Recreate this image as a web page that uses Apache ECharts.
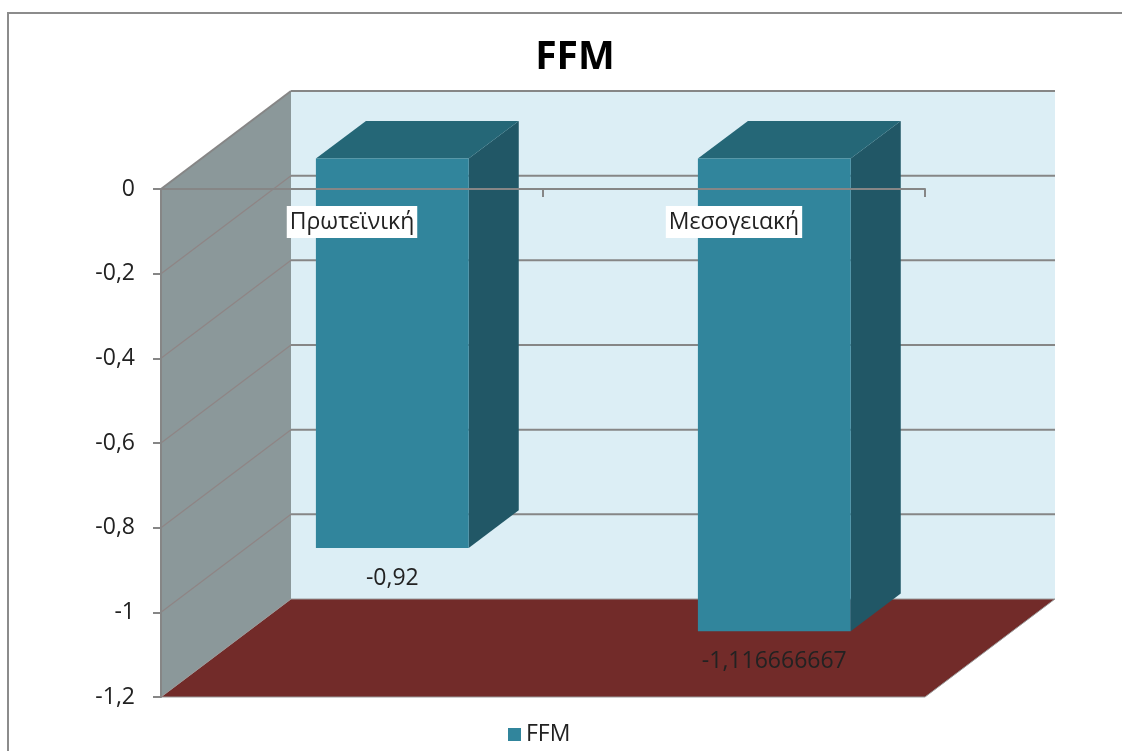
<!DOCTYPE html>
<html>
<head>
<meta charset="utf-8">
<script src="https://cdn.jsdelivr.net/npm/echarts@6/dist/echarts.min.js"></script>
<style>
  html, body { margin: 0; padding: 0; background: #fff; }
  #main { width: 1122px; height: 751px; }
</style>
</head>
<body>
<div id="main"></div>
<script>
// data
var categories = ['Πρωτεϊνική', 'Μεσογειακή'];
var ffmValues = [-0.92, -1.116666667];
var yTickValues = [0, -0.2, -0.4, -0.6, -0.8, -1, -1.2];

// 3D look
var DX = 130, DY = -98;        // depth of the box
var BAR_Z0 = 0.31, BAR_DEPTH = 0.385, BAR_W = 0.4;
var FONT = 'Open Sans';

function fmt(v) {
    return String(+(+v).toFixed(9)).replace('.', ',');
}

var chart = echarts.init(document.getElementById('main'));

// walls, floor, back gridlines
function renderFrame(params, api) {
    var cs = params.coordSys;
    var x0 = cs.x, x1 = cs.x + cs.width;
    var yTop = cs.y, yBot = cs.y + cs.height;
    var children = [];
    // back wall
    children.push({type: 'polygon', shape: {points: [[x0 + DX, yTop + DY], [x1 + DX, yTop + DY], [x1 + DX, yBot + DY], [x0 + DX, yBot + DY]]},
        style: {fill: '#DCEEF5'}});
    // left wall
    children.push({type: 'polygon', shape: {points: [[x0, yTop], [x0 + DX, yTop + DY], [x0 + DX, yBot + DY], [x0, yBot]]},
        style: {fill: '#8B989A'}});
    // floor
    children.push({type: 'polygon', shape: {points: [[x0, yBot], [x0 + DX, yBot + DY], [x1 + DX, yBot + DY], [x1, yBot]]},
        style: {fill: '#722B29', stroke: '#9a9a9a', lineWidth: 1}});
    for (var i = 0; i < yTickValues.length - 1; i++) {
        var y = api.coord([0, yTickValues[i]])[1];
        children.push({type: 'line', shape: {x1: x0 + DX, y1: y + DY, x2: x1 + DX, y2: y + DY},
            style: {stroke: '#868686', lineWidth: 2}});
        children.push({type: 'line', shape: {x1: x0, y1: y, x2: x0 + DX, y2: y + DY},
            style: {stroke: i === 0 ? '#868686' : '#8f8585', lineWidth: i === 0 ? 2 : 1.2}});
    }
    return {type: 'group', children: children};
}

// 3d bars
function renderBar(params, api) {
    var idx = api.value(0), val = api.value(1);
    var c0 = api.coord([idx, 0]);
    var c1 = api.coord([idx, val]);
    var bw = api.size([1, 0])[0] * BAR_W;
    var xl = c0[0] - bw / 2 + BAR_Z0 * DX, xr = xl + bw;
    var yt = c0[1] + BAR_Z0 * DY, yb = c1[1] + BAR_Z0 * DY;
    var ddx = BAR_DEPTH * DX, ddy = BAR_DEPTH * DY;
    return {type: 'group', children: [
        {type: 'polygon', shape: {points: [[xr, yt], [xr + ddx, yt + ddy], [xr + ddx, yb + ddy], [xr, yb]]},
            style: {fill: '#215766'}},
        {type: 'polygon', shape: {points: [[xl, yt], [xl + ddx, yt + ddy], [xr + ddx, yt + ddy], [xr, yt]]},
            style: {fill: '#256777'}},
        {type: 'rect', shape: {x: xl, y: yt, width: bw, height: yb - yt},
            style: {fill: '#31859C'}},
        {type: 'text', style: {text: fmt(val), x: (xl + xr) / 2, y: yb + 30, align: 'center', verticalAlign: 'middle',
            fontSize: 23, fontFamily: FONT, fill: '#222'}}
    ]};
}

var option = {
    animation: false,
    title: {
        text: 'FFM', left: 570, top: 33, textAlign: 'center',
        textStyle: {fontSize: 39, fontWeight: 'bold', fontFamily: FONT, color: '#000'}
    },
    legend: {
        data: ['FFM'], left: 503, top: 718, icon: 'rect', itemWidth: 13, itemHeight: 13,
        textStyle: {fontSize: 23, fontFamily: FONT, color: '#222'}
    },
    grid: {left: 161, right: 197, top: 189, bottom: 54},
    xAxis: {
        type: 'category', data: categories, z: 6, position: 'top',
        axisLine: {lineStyle: {color: '#868686', width: 2}},
        axisTick: {show: true, inside: true, length: 8, lineStyle: {color: '#868686', width: 2}},
        axisLabel: {inside: true, margin: 17, fontSize: 23, fontFamily: FONT, color: '#222',
            lineHeight: 22, backgroundColor: '#fff', padding: [5, 3, 5, 3]},
        splitLine: {show: false}
    },
    yAxis: {
        type: 'value', min: -1.2, max: 0, interval: 0.2, z: 6,
        axisLine: {show: true, lineStyle: {color: '#868686', width: 2}},
        axisTick: {show: true, length: 8, lineStyle: {color: '#868686', width: 2}},
        axisLabel: {margin: 26, fontSize: 23, fontFamily: FONT, color: '#222', formatter: fmt},
        splitLine: {show: false}
    },
    series: [
        {
            name: 'frame', type: 'custom', silent: true, z: 1,
            renderItem: renderFrame, data: [[0, 0]]
        },
        {
            name: 'FFM', type: 'custom', z: 2, itemStyle: {color: '#31859C'},
            renderItem: renderBar,
            data: ffmValues.map(function (v, i) { return [i, v]; })
        }
    ],
    graphic: [{
        type: 'rect', z: 100, silent: true,
        shape: {x: 8, y: 13, width: 1200, height: 800},
        style: {fill: 'none', stroke: '#8c8c8c', lineWidth: 2}
    }]
};
chart.setOption(option);
</script>
</body>
</html>
